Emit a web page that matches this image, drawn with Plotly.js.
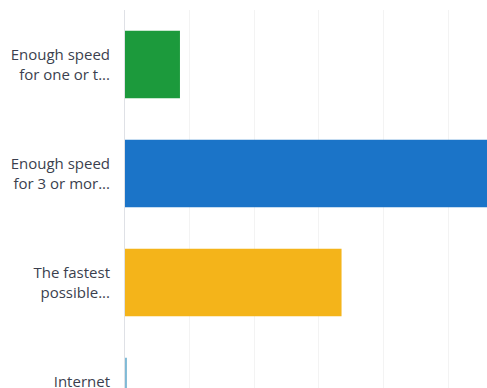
<!DOCTYPE html>
<html>
<head>
<meta charset="utf-8">
<script src="https://cdn.plot.ly/plotly-3.0.1.min.js"></script>
<style>html,body{margin:0;padding:0;background:#fff;overflow:hidden;}#chart{width:487px;height:460px;}</style>
</head>
<body>
<div id="chart"></div>
<script>
const categories = [
  "Enough speed<br>for one or t...",
  "Enough speed<br>for 3 or mor...",
  "The fastest<br>possible...",
  "Internet<br>speed isn't..."
];
const values = [8.5, 57, 33.5, 0.3];
const barColors = ["#1c9a3c", "#1b74c8", "#f4b41a", "#7fbad6"];

const trace = {
  type: "bar",
  orientation: "h",
  y: categories,
  x: values,
  marker: {color: barColors, line: {width: 0}},
  width: 0.62,
  hoverinfo: "none"
};

const layout = {
  width: 487,
  height: 460,
  margin: {l: 125, r: 0, t: 10, b: 14, pad: 0},
  paper_bgcolor: "#ffffff",
  plot_bgcolor: "#ffffff",
  showlegend: false,
  font: {family: "Open Sans, sans-serif", size: 15, color: "#3b3f4e"},
  xaxis: {
    range: [0, 56],
    dtick: 10,
    showgrid: true,
    gridcolor: "#f3f3f3",
    gridwidth: 1,
    zeroline: false,
    showline: false,
    showticklabels: false,
    ticks: ""
  },
  yaxis: {
    type: "category",
    range: [3.5, -0.5],
    showline: true,
    linecolor: "#dfe1e6",
    linewidth: 1,
    showgrid: false,
    zeroline: false,
    ticks: "",
    ticklabelstandoff: 11,
    tickfont: {family: "Open Sans, sans-serif", size: 15, color: "#3b3f4e"}
  },
  bargap: 0.38
};

Plotly.newPlot("chart", [trace], layout, {displayModeBar: false, staticPlot: true});
</script>
</body>
</html>
